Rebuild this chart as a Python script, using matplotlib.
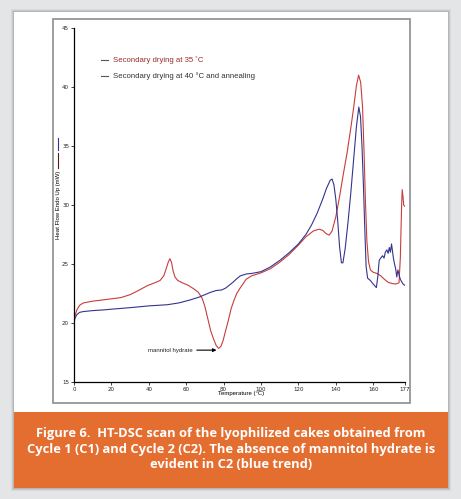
import matplotlib
matplotlib.use("Agg")
import matplotlib.pyplot as plt
from matplotlib.patches import Rectangle
from matplotlib.lines import Line2D

W, H = 461, 499

# Datos: temperatura (°C) y flujo de calor (mW)
temp_c1 = [0, 0.5, 1.5, 3, 5, 10, 15, 20, 25, 30, 35, 39, 43, 46, 48, 49.5, 50.5, 51.3,
           52.2, 53, 54, 55.5, 58, 61, 64, 66.5, 68.5, 70, 71.5, 73, 74.5, 76, 77.3,
           78.5, 79.7, 81, 82.5, 84, 85.5, 87, 89, 92, 95, 100, 105, 110, 115, 120,
           124, 128, 131, 133, 135, 136.5, 138, 140, 142, 144, 146, 148, 149.5, 151,
           152.2, 153.3, 154.3, 155.1, 155.8, 156.6, 157.5, 158.5, 160, 162, 164, 166,
           168, 170, 172, 173.8, 174.5, 175.2, 175.5, 176.0, 176.3, 176.8]
flow_c1 = [20.0, 20.6, 21.1, 21.5, 21.7, 21.85, 21.95, 22.05, 22.15, 22.4, 22.8, 23.15,
           23.4, 23.6, 24.0, 24.7, 25.2, 25.45, 25.1, 24.4, 23.9, 23.6, 23.4, 23.2, 22.9,
           22.6, 22.1, 21.4, 20.4, 19.4, 18.7, 18.1, 17.85, 18.0, 18.5, 19.3, 20.2, 21.2,
           21.9, 22.5, 23.0, 23.7, 24.0, 24.25, 24.6, 25.15, 25.8, 26.6, 27.3, 27.8,
           27.95, 27.85, 27.55, 27.45, 27.8, 29.0, 30.7, 32.6, 34.4, 36.5, 38.2, 40.1,
           41.0, 40.4, 38.3, 34.5, 30.5, 27.0, 25.2, 24.5, 24.3, 24.2, 24.0, 23.7, 23.45,
           23.35, 23.3, 23.4, 25.5, 30.0, 31.3, 30.6, 30.0, 29.9]

temp_c2 = [0, 0.5, 1.5, 3, 5, 10, 15, 20, 30, 40, 50, 56, 62, 67, 70, 73, 76, 79, 81, 83,
           85, 87, 89, 92, 95, 100, 105, 110, 115, 120, 124, 127, 130, 133, 135, 137,
           138, 139, 140, 141, 142, 143, 143.8, 145, 146.5, 148, 149.5, 151, 152.3,
           153.2, 154, 154.8, 155.5, 156.2, 157, 158.5, 160, 161.7, 162.5, 163.2, 164,
           165, 165.8, 166.5, 167.3, 168, 168.6, 169.2, 169.8, 170.3, 170.8, 171.4, 172,
           172.6, 173.2, 173.8, 174.5, 175.2, 176, 176.8]
flow_c2 = [20.0, 20.4, 20.7, 20.9, 20.97, 21.05, 21.1, 21.17, 21.3, 21.45, 21.55, 21.7,
           21.95, 22.2, 22.4, 22.6, 22.75, 22.8, 22.95, 23.2, 23.45, 23.75, 24.0, 24.15,
           24.2, 24.35, 24.75, 25.3, 25.95, 26.7, 27.5, 28.3, 29.3, 30.5, 31.4, 32.1,
           32.2, 31.7, 30.5, 28.7, 26.5, 25.1, 25.1, 26.3, 28.5, 31.0, 33.8, 36.6, 38.3,
           37.5, 35.0, 31.5, 28.0, 24.8, 23.8, 23.6, 23.3, 23.0, 24.0, 25.3, 25.5, 25.7,
           25.5, 26.0, 26.2, 25.9, 26.4, 26.0, 26.7, 26.1, 25.5, 25.0, 24.6, 23.9, 24.5,
           24.1, 23.7, 23.5, 23.3, 23.2]

x_ticks = [0, 20, 40, 60, 80, 100, 120, 140, 160, 177]
y_ticks = [15, 20, 25, 30, 35, 40, 45]

label_c1 = "Secondary drying at 35 ˚C"
label_c2 = "Secondary drying at 40 °C and annealing"
caption = ("Figure 6.  HT-DSC scan of the lyophilized cakes obtained from\n"
           "Cycle 1 (C1) and Cycle 2 (C2). The absence of mannitol hydrate is\n"
           "evident in C2 (blue trend)")

red = "#c83c3c"
blue = "#34348f"
orange = "#e46e30"


def box(x, y, w, h):
    # caja en píxeles (origen arriba a la izquierda) -> coordenadas de figura
    return (x / W, 1 - (y + h) / H), w / W, h / H


fig = plt.figure(figsize=(W / 100, H / 100), dpi=100)
fig.patch.set_facecolor("#e4e5e6")

# sombra + tarjeta blanca + banda naranja
for i, a in enumerate([0.05, 0.07, 0.09]):
    d = 3 - i
    xy, w, h = box(14 - d, 12 - d, 434 + 2 * d, 476 + 2 * d)
    fig.add_artist(Rectangle(xy, w, h, transform=fig.transFigure,
                             facecolor="black", alpha=a, edgecolor="none", zorder=-3))
xy, w, h = box(14, 12, 434, 400)
fig.add_artist(Rectangle(xy, w, h, transform=fig.transFigure, facecolor="white",
                         edgecolor="none", zorder=-2))
xy, w, h = box(14, 412, 434, 76)
fig.add_artist(Rectangle(xy, w, h, transform=fig.transFigure, facecolor=orange,
                         edgecolor="none", zorder=-2))
xy, w, h = box(53, 19, 357, 384)
fig.add_artist(Rectangle(xy, w, h, transform=fig.transFigure, facecolor="none",
                         edgecolor="#8c8c8c", linewidth=1.2, zorder=-1))

ax = fig.add_axes([74 / W, 1 - 382 / H, 331 / W, 354 / H])
ax.set_zorder(2)
ax.set_facecolor("none")
ax.plot(temp_c1, flow_c1, color=red, linewidth=0.8)
ax.plot(temp_c2, flow_c2, color=blue, linewidth=0.8)

ax.set_xlim(0, 177)
ax.set_ylim(15, 45)
ax.set_xticks(x_ticks)
ax.set_yticks(y_ticks)
ax.tick_params(labelsize=4, length=2, width=0.6, pad=1.5, colors="#222222")
for s in ["top", "right"]:
    ax.spines[s].set_visible(False)
for s in ["left", "bottom"]:
    ax.spines[s].set_linewidth(0.9)

ax.annotate("mannitol hydrate", xy=(76.2, 17.7), xytext=(39.5, 17.7),
            fontsize=4.3, family="Liberation Sans", va="center", color="#222222",
            arrowprops=dict(arrowstyle="-|>", color="black", lw=0.8,
                            mutation_scale=5, shrinkA=1, shrinkB=0))

fig.text(241 / W, 1 - 394 / H, "Temperature (°C)", fontsize=4.3,
         family="Liberation Sans", ha="center", va="center")
fig.text(58 / W, 1 - 205 / H, "Heat Flow Endo Up (mW)", fontsize=4.3,
         family="Liberation Sans", rotation=90, ha="center", va="center")
fig.add_artist(Line2D([58 / W, 58 / W], [1 - 138 / H, 1 - 150 / H],
                      transform=fig.transFigure, color=blue, lw=0.8))
fig.add_artist(Line2D([58 / W, 58 / W], [1 - 153 / H, 1 - 168 / H],
                      transform=fig.transFigure, color="#5a1a1a", lw=0.8))

# leyenda manual
for yy, txt, col in [(60, label_c1, "#9a2c2c"), (76, label_c2, "#333333")]:
    fig.add_artist(Line2D([101 / W, 108 / W], [1 - yy / H, 1 - yy / H],
                          transform=fig.transFigure, color="#555555", lw=0.8))
    fig.text(113 / W, 1 - yy / H, txt, fontsize=5.6, family="Liberation Sans",
             color=col, va="center")

fig.text(231 / W, 1 - 449 / H, caption, fontsize=9.3, family="Open Sans",
         weight="bold", color="white", ha="center", va="center", linespacing=1.22)

fig.savefig("out.png", dpi=100, facecolor=fig.get_facecolor())
